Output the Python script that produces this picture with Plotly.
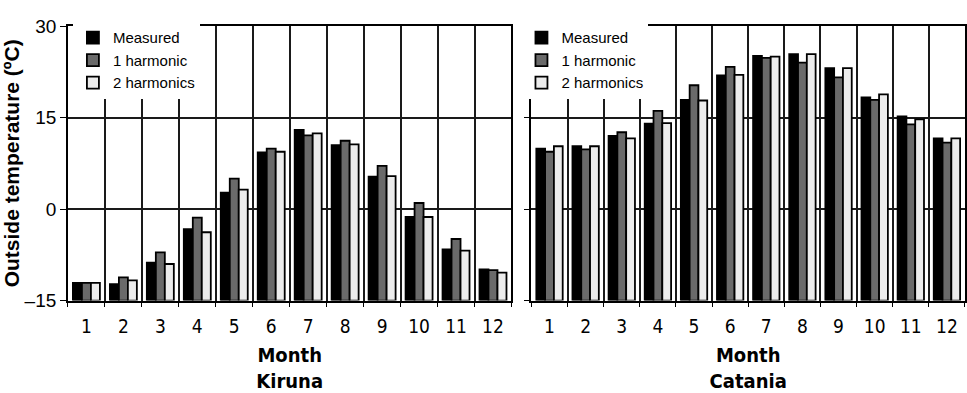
import plotly.graph_objects as go

# Monthly mean outside temperature (°C): measured vs. 1- and 2-harmonic fits
months = [str(m) for m in range(1, 13)]

kiruna_measured = [-12.1, -12.3, -8.8, -3.3, 2.7, 9.3, 13.0, 10.5, 5.3, -1.3, -6.6, -9.9]
kiruna_1harm = [-12.1, -11.2, -7.1, -1.4, 5.0, 9.9, 12.1, 11.2, 7.1, 1.0, -4.9, -10.0]
kiruna_2harm = [-12.1, -11.7, -9.0, -3.8, 3.2, 9.4, 12.4, 10.6, 5.4, -1.3, -6.8, -10.4]

catania_measured = [9.9, 10.3, 12.0, 14.0, 17.9, 21.9, 25.1, 25.4, 23.1, 18.3, 15.2, 11.6]
catania_1harm = [9.4, 9.8, 12.6, 16.1, 20.3, 23.3, 24.8, 24.0, 21.6, 17.9, 13.9, 10.9]
catania_2harm = [10.3, 10.3, 11.6, 14.1, 17.8, 22.0, 25.0, 25.4, 23.1, 18.8, 14.7, 11.6]

series_names = ["Measured", "1 harmonic", "2 harmonics"]
series_colors = ["#000000", "#6a6a6a", "#ececec"]

y_min, y_max = -15, 30
y_ticks = [-15, 0, 15, 30]
y_ticktext = ["\u201315", "0", "15", "30"]

W, H = 967, 393
sans = "Liberation Sans, Arial, Helvetica, sans-serif"
narrow = "DejaVu Sans Condensed, Liberation Sans Narrow, Arial Narrow, Liberation Sans, sans-serif"

fig = go.Figure()

panels = [
    ("x", "y", "legend", [kiruna_measured, kiruna_1harm, kiruna_2harm]),
    ("x2", "y2", "legend2", [catania_measured, catania_1harm, catania_2harm]),
]
for xa, ya, lg, data in panels:
    for name, color, vals in zip(series_names, series_colors, data):
        # bars rise from the bottom of the axis (-15 °C) up to each value
        fig.add_trace(go.Bar(
            x=months,
            y=[v - y_min for v in vals],
            base=y_min,
            name=name,
            marker=dict(color=color, line=dict(color="#000000", width=1.8)),
            xaxis=xa, yaxis=ya, legend=lg,
        ))

y_dom = [1 - 307 / H, 1 - 17 / H]
x1_dom = [68 / W, 512 / W]
x2_dom = [532 / W, 966 / W]

xaxis_common = dict(
    type="category",
    tickson="boundaries",
    showgrid=True, gridcolor="#1a1a1a", gridwidth=1.5,
    showline=True, linecolor="#000000", linewidth=1.7, mirror=True,
    ticks="outside", ticklen=5, tickcolor="#000000", tickwidth=1,
    ticklabelstandoff=8,
    tickfont=dict(family=narrow, size=19, color="#000000"),
    title_font=dict(family=narrow, size=20, color="#000000"),
    title_standoff=16,
)
yaxis_common = dict(
    range=[y_min, y_max],
    tickvals=y_ticks,
    showgrid=True, gridcolor="#1a1a1a", gridwidth=1.5,
    zeroline=False,
    showline=True, linecolor="#000000", linewidth=1.7, mirror=True,
    ticks="outside", ticklen=6, tickcolor="#000000", tickwidth=1.2,
    tickfont=dict(family=sans, size=19, color="#000000"),
)

legend_common = dict(
    y=1 - 12 / H, xanchor="left", yanchor="top",
    bgcolor="#ffffff", borderwidth=0,
    font=dict(family=sans, size=15, color="#000000"),
    tracegroupgap=0, itemwidth=30,
)

fig.update_layout(
    width=W, height=H,
    margin=dict(l=0, r=0, t=0, b=0),
    paper_bgcolor="#ffffff", plot_bgcolor="#ffffff",
    barmode="group", bargap=0.27, bargroupgap=0.0,
    xaxis=dict(domain=x1_dom, anchor="y",
               title=dict(text="<b>Month</b><br><b>Kiruna</b>"), **xaxis_common),
    xaxis2=dict(domain=x2_dom, anchor="y2",
                title=dict(text="<b>Month</b><br><b>Catania</b>"), **xaxis_common),
    yaxis=dict(domain=y_dom, anchor="x", ticktext=y_ticktext,
               title=dict(text="<b>Outside temperature (\u00baC)</b>",
                          font=dict(family=sans, size=21, color="#000000"),
                          standoff=9),
               **yaxis_common),
    yaxis2=dict(domain=y_dom, anchor="x2", showticklabels=False, **yaxis_common),
    legend=dict(x=73 / W, **legend_common),
    legend2=dict(x=522 / W, **legend_common),
    showlegend=True,
)

fig.write_html("out.html")
